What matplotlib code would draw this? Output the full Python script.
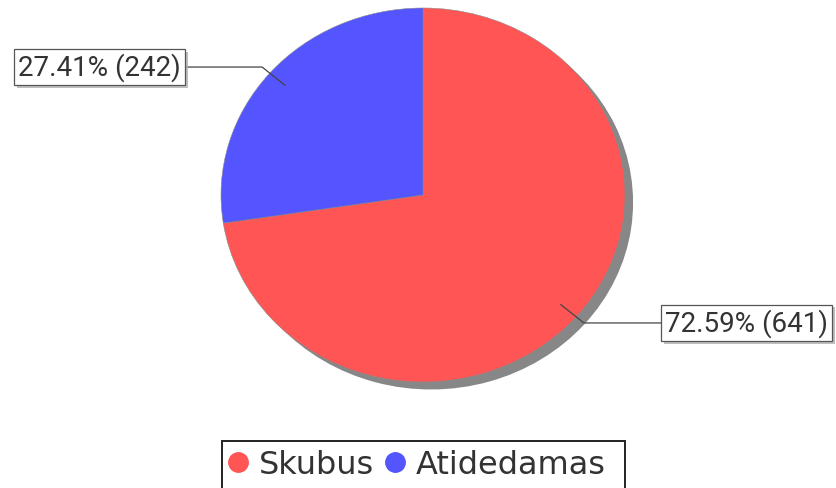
import numpy as np
import matplotlib.pyplot as plt
import matplotlib.patheffects as pe
from matplotlib.lines import Line2D
from matplotlib.patches import Rectangle

labels = ['Skubus', 'Atidedamas']
counts = [641, 242]
colors = ['#FF5555', '#5555FF']

W, H = 837, 489
fig = plt.figure(figsize=(W / 100, H / 100), dpi=100)

# pie axes placed so the (slightly oval) pie fills the same box as the reference
ax = fig.add_axes([221 / W, (H - 383) / H, 404 / W, 374 / H])

# shadow
ax.pie(counts, colors=['#878787'] * len(counts), startangle=90, counterclock=False,
       center=(0.04, -0.04), wedgeprops=dict(linewidth=0))
wedges, _ = ax.pie(counts, colors=colors, startangle=90, counterclock=False,
                   wedgeprops=dict(linewidth=0.4, edgecolor='#8a8a8a'))
ax.set_aspect('auto')
ax.set_xlim(-1, 1)
ax.set_ylim(-1, 1)
ax.axis('off')

total = sum(counts)
for w, c in zip(wedges, counts):
    ang = np.deg2rad((w.theta1 + w.theta2) / 2)
    cx, cy = np.cos(ang), np.sin(ang)
    side = 1 if cx > 0 else -1
    p0 = (0.9 * cx, 0.9 * cy)
    p1 = (1.05 * cx, 1.05 * cy)
    p2 = (side * 1.178, p1[1])
    ax.plot([p0[0], p1[0], p2[0]], [p0[1], p1[1], p2[1]], color='#444444',
            lw=0.9, clip_on=False)
    txt = f'{100 * c / total:.2f}% ({c})'
    t = ax.text(p2[0] + side * 0.02, p2[1], txt, ha='left' if side > 0 else 'right',
                va='center', fontsize=20, family='Roboto', color='#333333', clip_on=False,
                bbox=dict(boxstyle='square,pad=0.14', fc='white', ec='#555555', lw=0.9))
    t.get_bbox_patch().set_path_effects([
        pe.SimplePatchShadow(offset=(2, -2), shadow_rgbFace='#b0b0b0', alpha=0.8),
        pe.Normal()])

handles = [Line2D([], [], ls='none', marker='o', ms=14, mfc=col, mec=col)
           for col in colors]
leg = fig.legend(handles, labels, loc='center left', bbox_to_anchor=(227 / W, 1 - 466 / H),
                 ncol=2, frameon=False, prop=dict(family='DejaVu Sans', size=23),
                 handlelength=0.7, handletextpad=0.3, columnspacing=0.3,
                 borderpad=0, borderaxespad=0)
for t in leg.get_texts():
    t.set_color('#333333')

# legend frame runs off the bottom edge like in the original
fig.patches.append(Rectangle((222 / W, -0.05), (625 - 222) / W, (H - 442) / H + 0.05,
                             transform=fig.transFigure, fill=False,
                             edgecolor='#222222', linewidth=1.4))

fig.savefig('out.png', dpi=100)
